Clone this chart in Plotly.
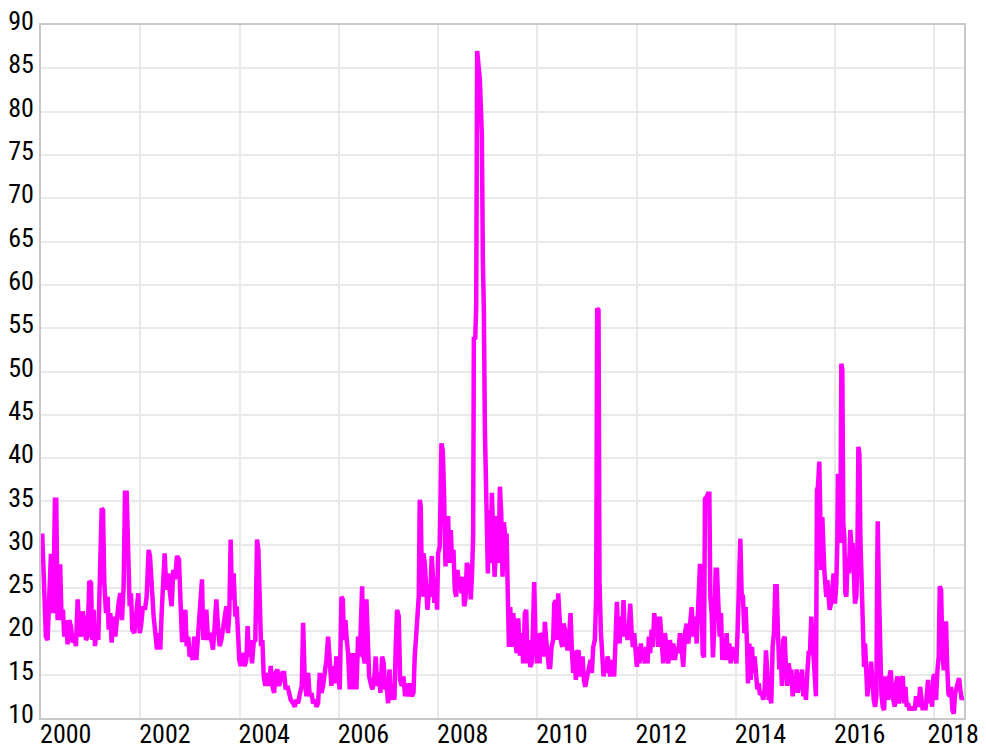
import pandas as pd
import plotly.graph_objects as go

# Dates as decimal years
decimal_years = [
    2000.024, 2000.064, 2000.097, 2000.131, 2000.165, 2000.198, 2000.225, 2000.245, 2000.279, 2000.306,
    2000.333, 2000.360, 2000.386, 2000.413, 2000.440, 2000.467, 2000.501, 2000.534, 2000.568, 2000.601,
    2000.635, 2000.669, 2000.702, 2000.736, 2000.769, 2000.803, 2000.837, 2000.870, 2000.904, 2000.937,
    2000.971, 2001.005, 2001.032, 2001.058, 2001.085, 2001.126, 2001.152, 2001.186, 2001.220, 2001.247,
    2001.273, 2001.307, 2001.341, 2001.361, 2001.394, 2001.421, 2001.462, 2001.495, 2001.529, 2001.562,
    2001.596, 2001.630, 2001.663, 2001.690, 2001.724, 2001.751, 2001.784, 2001.811, 2001.838, 2001.878,
    2001.919, 2001.959, 2001.986, 2002.013, 2002.053, 2002.093, 2002.127, 2002.167, 2002.194, 2002.234,
    2002.268, 2002.302, 2002.335, 2002.362, 2002.402, 2002.429, 2002.456, 2002.490, 2002.523, 2002.564,
    2002.597, 2002.631, 2002.665, 2002.698, 2002.739, 2002.779, 2002.806, 2002.840, 2002.873, 2002.907,
    2002.934, 2002.967, 2002.994, 2003.021, 2003.054, 2003.088,
    # 2003 - 2006
    2003.129, 2003.162, 2003.189, 2003.216, 2003.243, 2003.270, 2003.297, 2003.330, 2003.364, 2003.397,
    2003.431, 2003.465, 2003.498, 2003.532, 2003.565, 2003.599, 2003.633, 2003.666, 2003.700, 2003.733,
    2003.767, 2003.794, 2003.821, 2003.848, 2003.881, 2003.915, 2003.942, 2003.969, 2003.995, 2004.022,
    2004.049, 2004.076, 2004.103, 2004.137, 2004.163, 2004.190, 2004.217, 2004.251, 2004.284, 2004.318,
    2004.352, 2004.379, 2004.405, 2004.432, 2004.459, 2004.486, 2004.520, 2004.560, 2004.594, 2004.627,
    2004.661, 2004.694, 2004.728, 2004.762, 2004.795, 2004.829, 2004.862, 2004.896, 2004.930, 2004.963,
    2004.997, 2005.030, 2005.077, 2005.111, 2005.145, 2005.178, 2005.218, 2005.252, 2005.279, 2005.313,
    2005.346, 2005.380, 2005.413, 2005.447, 2005.481, 2005.514, 2005.548, 2005.581, 2005.615, 2005.649,
    2005.682, 2005.716, 2005.749, 2005.783, 2005.817, 2005.850, 2005.877, 2005.917, 2005.951, 2005.985,
    2006.018, 2006.052, 2006.079, 2006.106, 2006.132, 2006.159, 2006.186,
    # 2006 - 2009
    2006.220, 2006.254, 2006.287, 2006.321, 2006.354, 2006.388, 2006.422, 2006.442, 2006.469, 2006.496,
    2006.522, 2006.556, 2006.583, 2006.610, 2006.643, 2006.677, 2006.711, 2006.744, 2006.771, 2006.805,
    2006.838, 2006.872, 2006.905, 2006.932, 2006.959, 2006.993, 2007.020, 2007.053, 2007.087, 2007.120,
    2007.147, 2007.174, 2007.208, 2007.235, 2007.268, 2007.302, 2007.336, 2007.369, 2007.403, 2007.436,
    2007.470, 2007.504, 2007.530, 2007.557, 2007.584, 2007.611, 2007.631, 2007.651, 2007.678, 2007.705,
    2007.732, 2007.759, 2007.786, 2007.813, 2007.840, 2007.873, 2007.900, 2007.927, 2007.954, 2007.981,
    2008.001, 2008.034, 2008.068, 2008.095, 2008.122, 2008.149, 2008.176, 2008.202, 2008.229, 2008.256,
    2008.283, 2008.310, 2008.337, 2008.364, 2008.391, 2008.417, 2008.444, 2008.471, 2008.498, 2008.525,
    2008.552, 2008.579, 2008.606, 2008.633, 2008.659, 2008.686, 2008.706, 2008.720, 2008.747, 2008.767,
    2008.777, 2008.787, 2008.841, 2008.881, 2008.901, 2008.921, 2008.942, 2008.955, 2008.975, 2009.002,
    2009.029, 2009.056, 2009.083, 2009.110, 2009.137, 2009.163, 2009.190, 2009.217, 2009.244, 2009.271,
    2009.298, 2009.325, 2009.352,
    # 2009 - 2012
    2009.379, 2009.399, 2009.426, 2009.453, 2009.479, 2009.513, 2009.547, 2009.580, 2009.614, 2009.647,
    2009.681, 2009.715, 2009.748, 2009.775, 2009.802, 2009.829, 2009.856, 2009.883, 2009.909, 2009.936,
    2009.963, 2009.990, 2010.017, 2010.044, 2010.071, 2010.098, 2010.125, 2010.151, 2010.178, 2010.205,
    2010.232, 2010.259, 2010.286, 2010.319, 2010.340, 2010.366, 2010.393, 2010.420, 2010.447, 2010.474,
    2010.501, 2010.528, 2010.555, 2010.581, 2010.608, 2010.635, 2010.669, 2010.696, 2010.723, 2010.749,
    2010.776, 2010.803, 2010.830, 2010.857, 2010.884, 2010.911, 2010.938, 2010.965, 2010.991, 2011.018,
    2011.045, 2011.072, 2011.099, 2011.126, 2011.159, 2011.186, 2011.206, 2011.233, 2011.253, 2011.280,
    2011.307, 2011.334, 2011.361, 2011.388, 2011.415, 2011.442, 2011.469, 2011.495, 2011.522, 2011.549,
    2011.576, 2011.603, 2011.630, 2011.657, 2011.684, 2011.710, 2011.737, 2011.764, 2011.791, 2011.818,
    2011.845, 2011.872, 2011.899, 2011.925, 2011.952, 2011.979, 2012.006, 2012.033, 2012.060, 2012.087,
    2012.114, 2012.140, 2012.167, 2012.194, 2012.221, 2012.248, 2012.275, 2012.302, 2012.328, 2012.355,
    2012.382, 2012.409, 2012.436,
    # 2012 - 2015
    2012.470, 2012.504, 2012.537, 2012.571, 2012.604, 2012.638, 2012.672, 2012.705, 2012.739, 2012.772,
    2012.806, 2012.840, 2012.873, 2012.907, 2012.940, 2012.974, 2013.008, 2013.041, 2013.075, 2013.108,
    2013.142, 2013.176, 2013.209, 2013.243, 2013.276, 2013.303, 2013.330, 2013.357, 2013.377, 2013.411,
    2013.438, 2013.465, 2013.485, 2013.512, 2013.538, 2013.565, 2013.592, 2013.619, 2013.646, 2013.673,
    2013.700, 2013.727, 2013.754, 2013.780, 2013.814, 2013.841, 2013.868, 2013.895, 2013.922, 2013.948,
    2013.982, 2014.009, 2014.036, 2014.063, 2014.090, 2014.116, 2014.143, 2014.170, 2014.197, 2014.224,
    2014.244, 2014.271, 2014.298, 2014.325, 2014.352, 2014.378, 2014.405, 2014.432, 2014.459, 2014.486,
    2014.520, 2014.553, 2014.580, 2014.607, 2014.634, 2014.661, 2014.688, 2014.714, 2014.741, 2014.768,
    2014.795, 2014.822, 2014.849, 2014.876, 2014.903, 2014.930, 2014.956, 2014.983, 2015.010, 2015.037,
    2015.064, 2015.091, 2015.118, 2015.145, 2015.171, 2015.198, 2015.225, 2015.252, 2015.279, 2015.306,
    2015.333, 2015.360, 2015.387, 2015.413, 2015.440, 2015.467, 2015.494, 2015.521, 2015.548, 2015.575,
    2015.601,
    # 2015 - 2018
    2015.615, 2015.635, 2015.655, 2015.682, 2015.703, 2015.723, 2015.743, 2015.763, 2015.783, 2015.803,
    2015.823, 2015.844, 2015.864, 2015.891, 2015.918, 2015.944, 2015.971, 2015.998, 2016.025, 2016.045,
    2016.059, 2016.079, 2016.106, 2016.126, 2016.146, 2016.166, 2016.186, 2016.207, 2016.227, 2016.254,
    2016.280, 2016.307, 2016.334, 2016.354, 2016.375, 2016.401, 2016.428, 2016.448, 2016.469, 2016.489,
    2016.509, 2016.536, 2016.556, 2016.583, 2016.603, 2016.623, 2016.650, 2016.677, 2016.704, 2016.724,
    2016.751, 2016.778, 2016.805, 2016.831, 2016.845, 2016.858, 2016.879, 2016.905, 2016.932, 2016.959,
    2016.986, 2017.013, 2017.040, 2017.067, 2017.094, 2017.120, 2017.147, 2017.174, 2017.201, 2017.228,
    2017.255, 2017.282, 2017.309, 2017.335, 2017.362, 2017.389, 2017.416, 2017.443, 2017.470, 2017.497,
    2017.524, 2017.551, 2017.577, 2017.604, 2017.631, 2017.658, 2017.685, 2017.712, 2017.739, 2017.766,
    2017.792, 2017.819, 2017.846, 2017.873, 2017.900, 2017.927, 2017.954, 2017.981, 2018.008, 2018.034,
    2018.061, 2018.088, 2018.108, 2018.135, 2018.162, 2018.189, 2018.216, 2018.236, 2018.256, 2018.283,
    2018.310, 2018.337, 2018.364, 2018.391, 2018.417, 2018.444, 2018.471, 2018.498, 2018.525, 2018.552,
    2018.579,
]

index_values = [
    31.3, 23.7, 19.4, 19.0, 22.9, 28.7, 28.7, 22.1, 35.2, 35.2,
    21.3, 27.5, 27.5, 21.3, 22.5, 19.4, 21.3, 18.5, 21.3, 20.6,
    18.7, 19.4, 18.3, 23.7, 20.6, 19.4, 22.3, 21.3, 19.0, 19.4,
    25.8, 25.6, 19.0, 22.5, 18.3, 20.6, 19.0, 25.6, 34.2, 34.0,
    25.6, 22.1, 24.0, 20.2, 22.1, 18.7, 21.7, 19.4, 22.1, 23.3,
    24.4, 21.3, 25.2, 36.0, 36.0, 26.7, 22.9, 24.4, 20.2, 19.8,
    22.5, 24.4, 19.8, 20.6, 22.9, 22.5, 24.0, 29.4, 28.7, 24.0,
    21.7, 19.8, 17.9, 19.8, 17.9, 22.1, 26.7, 29.0, 24.8, 26.7,
    24.4, 22.9, 27.1, 26.0, 28.7, 28.3, 24.0, 19.0, 19.0, 22.5,
    18.3, 19.4, 17.1, 17.5, 16.7, 19.4,
    # 2003 - 2006
    16.7, 19.0, 21.0, 23.7, 26.0, 19.0, 20.6, 22.5, 19.0, 19.8,
    19.0, 17.9, 20.6, 23.7, 20.6, 18.3, 19.0, 20.2, 21.0, 22.9,
    19.8, 22.1, 30.6, 23.7, 26.7, 21.7, 22.9, 19.0, 16.7, 16.0,
    17.5, 16.7, 16.0, 16.7, 20.6, 17.1, 19.0, 16.3, 18.7, 19.0,
    30.6, 29.4, 20.6, 18.3, 19.0, 14.8, 13.7, 15.2, 13.7, 16.0,
    13.7, 12.9, 15.2, 15.6, 13.7, 14.4, 15.2, 15.2, 13.3, 13.7,
    12.9, 12.1, 11.7, 11.3, 12.1, 11.7, 12.9, 13.7, 21.0, 14.4,
    12.5, 15.2, 12.5, 12.9, 11.7, 12.1, 11.3, 11.7, 15.2, 12.9,
    13.7, 15.2, 16.7, 19.4, 17.1, 13.7, 16.0, 14.0, 17.1, 15.2,
    13.3, 24.0, 23.7, 19.0, 21.3, 19.0, 17.5,
    # 2006 - 2009
    13.3, 17.5, 13.3, 17.5, 13.3, 19.4, 17.1, 23.3, 25.2, 17.1,
    16.3, 23.7, 20.2, 14.8, 14.0, 13.3, 14.4, 17.1, 13.7, 15.2,
    12.9, 17.1, 16.3, 13.3, 14.0, 11.7, 15.6, 12.1, 13.3, 12.1,
    18.3, 22.5, 21.7, 14.4, 13.7, 14.8, 12.5, 14.0, 12.5, 14.0,
    12.5, 12.9, 17.1, 19.8, 22.1, 24.0, 35.2, 34.4, 24.0, 29.0,
    27.9, 24.0, 22.5, 24.4, 24.0, 28.7, 26.3, 23.3, 26.0, 22.5,
    29.0, 29.8, 41.7, 40.9, 35.6, 27.5, 31.7, 33.3, 27.9, 31.7,
    27.9, 29.4, 24.8, 24.0, 27.1, 25.6, 26.3, 24.4, 26.3, 22.9,
    23.7, 27.9, 27.5, 25.6, 23.7, 27.1, 31.0, 54.0, 53.7, 57.5,
    69.0, 87.0, 83.7, 77.3, 63.0, 57.0, 43.3, 39.4, 32.9, 26.7,
    34.0, 27.9, 36.0, 29.4, 26.3, 29.0, 33.3, 27.9, 36.7, 33.7,
    26.3, 32.6, 31.0,
    # 2009 - 2012
    31.3, 22.1, 18.2, 22.8, 18.2, 22.1, 19.1, 17.5, 21.5, 17.2,
    19.8, 16.3, 22.1, 22.5, 16.3, 19.0, 15.9, 16.3, 19.8, 25.7,
    19.0, 16.3, 19.8, 16.3, 19.4, 19.8, 17.1, 21.1, 19.0, 17.1,
    15.9, 15.9, 18.2, 19.0, 23.2, 23.6, 19.0, 24.4, 20.2, 19.0,
    18.2, 20.9, 20.2, 18.2, 17.8, 19.0, 22.1, 17.8, 15.2, 17.8,
    14.4, 17.4, 17.8, 14.8, 16.3, 17.1, 14.4, 13.6, 14.4, 15.6,
    15.9, 16.7, 15.2, 18.2, 19.0, 24.0, 57.3, 57.1, 25.7, 20.0,
    15.9, 14.8, 16.3, 15.2, 17.1, 16.3, 14.8, 16.7, 15.9, 14.8,
    19.0, 23.4, 19.8, 18.6, 21.7, 19.4, 23.6, 19.4, 20.9, 19.0,
    20.5, 23.2, 20.2, 18.2, 19.8, 17.8, 15.9, 18.2, 16.3, 18.6,
    16.7, 17.8, 16.3, 18.2, 16.3, 19.4, 17.5, 20.2, 18.2, 22.1,
    20.5, 21.7, 18.2,
    # 2012 - 2015
    21.7, 18.2, 16.3, 19.8, 18.2, 16.3, 19.0, 16.7, 18.6, 16.7,
    18.2, 17.5, 19.8, 17.1, 15.9, 19.8, 20.9, 18.6, 20.9, 22.8,
    19.4, 21.7, 18.6, 22.8, 27.8, 25.8, 17.4, 17.0, 35.3, 35.5,
    35.9, 35.9, 24.0, 22.1, 17.0, 20.5, 27.1, 27.1, 22.1, 19.4,
    22.1, 16.7, 18.2, 16.7, 19.8, 16.7, 18.6, 16.3, 18.2, 16.7,
    17.5, 16.3, 20.2, 24.4, 30.7, 24.4, 24.0, 19.8, 22.8, 18.6,
    14.0, 18.6, 14.4, 18.2, 15.2, 17.1, 14.4, 13.3, 14.0, 12.7,
    12.9, 12.1, 13.3, 17.8, 15.2, 12.1, 12.5, 11.7, 18.2, 19.8,
    25.2, 25.2, 19.8, 15.6, 17.1, 13.7, 19.0, 19.4, 15.9, 13.7,
    16.3, 15.2, 15.6, 12.5, 14.4, 12.9, 15.6, 12.9, 15.2, 13.3,
    15.6, 12.5, 14.0, 12.1, 15.2, 17.5, 17.5, 21.7, 18.9, 15.2,
    12.9,
    # 2015 - 2018
    12.5, 36.3, 36.7, 39.6, 33.2, 27.1, 33.2, 27.8, 27.1, 25.5,
    24.0, 25.9, 23.6, 22.5, 23.2, 25.5, 26.7, 23.2, 25.5, 30.2,
    38.2, 37.8, 30.2, 50.9, 50.2, 32.5, 30.9, 24.4, 24.0, 28.6,
    26.7, 31.7, 29.4, 30.2, 25.5, 23.2, 24.0, 28.2, 41.3, 40.5,
    30.9, 25.5, 18.6, 15.9, 18.6, 14.8, 12.5, 14.0, 14.0, 16.5,
    14.0, 12.1, 11.3, 12.5, 25.5, 32.7, 25.5, 14.8, 12.8, 11.3,
    10.9, 14.8, 13.6, 12.1, 14.8, 15.5, 12.8, 11.7, 11.3, 14.0,
    14.8, 11.7, 12.5, 14.4, 14.8, 11.7, 13.6, 11.3, 11.7, 10.9,
    11.3, 10.9, 11.3, 10.9, 12.5, 11.7, 11.3, 13.6, 12.1, 10.9,
    11.7, 10.9, 12.5, 14.4, 11.7, 12.8, 11.3, 14.8, 15.0, 12.1,
    15.5, 17.1, 25.2, 24.8, 17.8, 15.5, 20.9, 20.9, 16.3, 12.8,
    12.5, 13.6, 10.9, 10.5, 12.8, 13.6, 14.0, 14.6, 13.2, 12.1,
    12.5,
]

y_ticks = [10, 15, 20, 25, 30, 35, 40, 45, 50, 55, 60, 65, 70, 75, 80, 85, 90]
label_years = [2000, 2002, 2004, 2006, 2008, 2010, 2012, 2014, 2016, 2018]
x_range = ["1999-12-31 18:00", "2018-08-07"]


def to_date(y):
    yr = int(y)
    start = pd.Timestamp(year=yr, month=1, day=1)
    end = pd.Timestamp(year=yr + 1, month=1, day=1)
    return start + (end - start) * (y - yr)


dates = [to_date(y) for y in decimal_years]

# labels sit just right of each two-year gridline; the last one is nudged
# left a little so it stays inside the page
label_positions = [pd.Timestamp(year=y, month=7, day=1) for y in label_years]
label_positions[-1] = pd.Timestamp(year=label_years[-1], month=5, day=20)
label_texts = [str(y) for y in label_years]

font_family = "Roboto Condensed, Liberation Sans, sans-serif"
tick_font = dict(family=font_family, size=26, color="#000000")

fig = go.Figure()
fig.add_trace(go.Scatter(
    x=dates, y=index_values, mode="lines",
    line=dict(color="#ff00ff", width=4.5),
    showlegend=False,
))

grid_color = "#e9e9e9"
frame_color = "#c8c8c8"

fig.update_layout(
    width=978, height=737,
    margin=dict(l=33, r=22, t=17, b=27),
    paper_bgcolor="white", plot_bgcolor="white",
    font=dict(family=font_family, size=26, color="#000000"),
    xaxis=dict(
        type="date", range=x_range,
        tickvals=label_positions, ticktext=label_texts,
        showgrid=False,
        minor=dict(tick0="2000-01-01", dtick="M24", showgrid=True,
                   gridcolor=grid_color, gridwidth=1.5, ticks=""),
        showline=True, mirror=True, linecolor=frame_color, linewidth=2,
        ticks="", ticklabelstandoff=-8, ticklabeloverflow="allow",
        tickfont=tick_font,
        automargin=False, zeroline=False,
    ),
    yaxis=dict(
        range=[10, 90], tickvals=y_ticks,
        showgrid=True, gridcolor=grid_color, gridwidth=1.5,
        showline=True, mirror=True, linecolor=frame_color, linewidth=2,
        ticks="", ticklabelstandoff=0, ticklabelshift=-4,
        ticklabeloverflow="allow",
        tickfont=tick_font,
        automargin=False, zeroline=False,
    ),
)

fig.write_html("out.html")
